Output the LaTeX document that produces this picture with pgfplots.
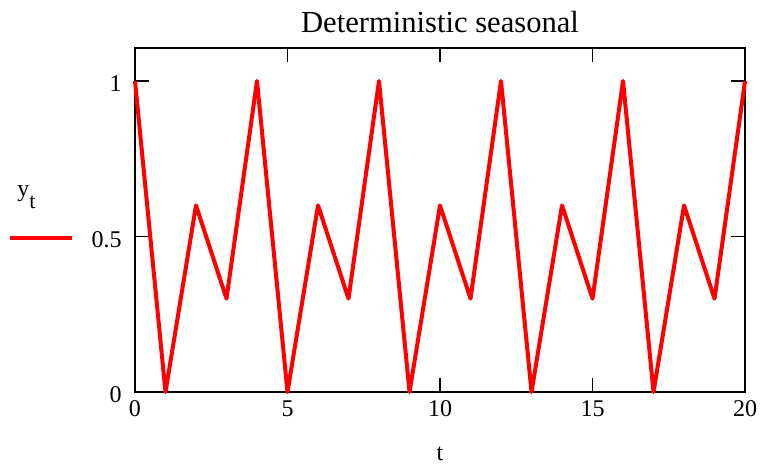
\documentclass[border=0pt]{standalone}
\usepackage{fontspec}
\setmainfont{Liberation Serif}
\usepackage{pgfplots}
\pgfplotsset{compat=1.18}

\begin{document}
\begin{tikzpicture}
\begin{axis}[
  scale only axis,
  width=305pt, height=172pt,
  xmin=0, xmax=20, ymin=0, ymax=1.106,
  xtick={0,5,10,15,20},
  ytick={0,0.5,1},
  tick align=inside,
  major tick length=7pt,
  tick style={black, line width=0.8pt},
  axis line style={black, line width=1pt},
  clip=false,
  /pgf/number format/assume math mode=true,
  tick label style={font=\fontsize{12}{14}\selectfont},
  xticklabel style={anchor=north, inner sep=0pt, yshift=-4pt},
  yticklabel style={anchor=east, inner sep=0pt, xshift=-6.5pt, yshift=-1.5pt},
  title={Deterministic seasonal},
  title style={font=\fontsize{15.3}{18}\selectfont, at={(axis description cs:0.5,1)}, anchor=base, yshift=1.5pt, inner sep=0pt},
  xlabel={t},
  xlabel style={font=\fontsize{12}{14}\selectfont, at={(axis description cs:0.5,0)}, anchor=base, yshift=-34pt, inner sep=0pt},
]
\addplot[red, line width=2pt, line join=round, mark=none] coordinates {
  (0,1) (1,0) (2,0.6) (3,0.3) (4,1) (5,0) (6,0.6) (7,0.3) (8,1) (9,0)
  (10,0.6) (11,0.3) (12,1) (13,0) (14,0.6) (15,0.3) (16,1) (17,0)
  (18,0.6) (19,0.3) (20,1)};
% legend drawn beside the axis, Mathcad style
\draw[red, line width=2pt] (rel axis cs:-0.205,0.448) -- (rel axis cs:-0.103,0.448);
\node[anchor=base west, inner sep=0pt, font=\fontsize{12}{14}\selectfont]
  at (rel axis cs:-0.1934,0.567) {y\raisebox{-6pt}{\fontsize{11}{13}\selectfont t}};
\path (rel axis cs:-0.2213,-0.2064) rectangle (rel axis cs:1.0311,1.1395);
\end{axis}
\end{tikzpicture}
\end{document}
